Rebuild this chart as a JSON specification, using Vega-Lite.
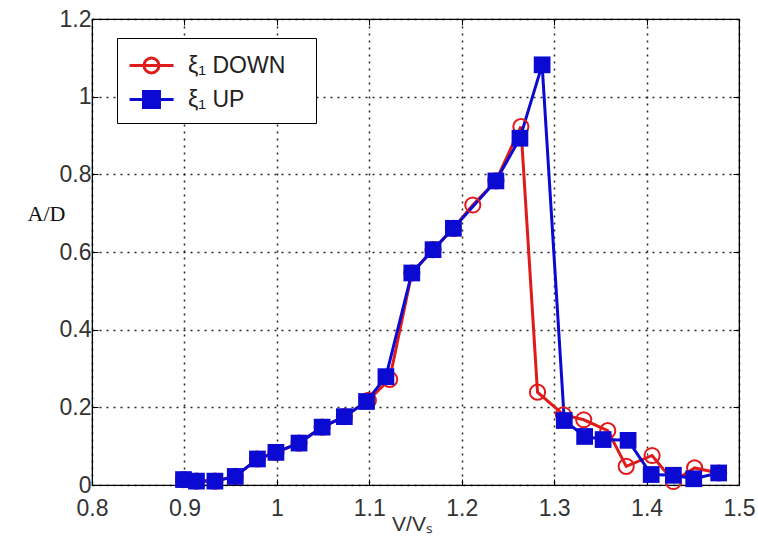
{
  "$schema": "https://vega.github.io/schema/vega-lite/v6.json",
  "width": 647,
  "height": 466,
  "autosize": {"type": "none"},
  "padding": {"left": 92, "top": 19, "right": 19, "bottom": 57},
  "background": "white",
  "config": {
    "view": {"stroke": "black", "strokeWidth": 1.2},
    "axis": {
      "labelFont": "Liberation Sans",
      "labelFontSize": 23,
      "labelColor": "#333333",
      "labelFlush": false,
      "domainColor": "black",
      "tickColor": "black",
      "gridColor": "black",
      "gridDash": [2, 5],
      "gridWidth": 1.5,
      "gridOpacity": 0.85
    }
  },
  "data": {
    "values": [
      {"x": 0.899, "y": 0.014, "s": "ξ₁ DOWN"},
      {"x": 0.913, "y": 0.010, "s": "ξ₁ DOWN"},
      {"x": 0.933, "y": 0.010, "s": "ξ₁ DOWN"},
      {"x": 0.955, "y": 0.022, "s": "ξ₁ DOWN"},
      {"x": 0.979, "y": 0.067, "s": "ξ₁ DOWN"},
      {"x": 0.999, "y": 0.084, "s": "ξ₁ DOWN"},
      {"x": 1.024, "y": 0.108, "s": "ξ₁ DOWN"},
      {"x": 1.049, "y": 0.149, "s": "ξ₁ DOWN"},
      {"x": 1.073, "y": 0.176, "s": "ξ₁ DOWN"},
      {"x": 1.099, "y": 0.218, "s": "ξ₁ DOWN"},
      {"x": 1.122, "y": 0.272, "s": "ξ₁ DOWN"},
      {"x": 1.146, "y": 0.546, "s": "ξ₁ DOWN"},
      {"x": 1.169, "y": 0.606, "s": "ξ₁ DOWN"},
      {"x": 1.191, "y": 0.661, "s": "ξ₁ DOWN"},
      {"x": 1.212, "y": 0.721, "s": "ξ₁ DOWN"},
      {"x": 1.237, "y": 0.783, "s": "ξ₁ DOWN"},
      {"x": 1.264, "y": 0.923, "s": "ξ₁ DOWN"},
      {"x": 1.282, "y": 0.239, "s": "ξ₁ DOWN"},
      {"x": 1.310, "y": 0.181, "s": "ξ₁ DOWN"},
      {"x": 1.332, "y": 0.168, "s": "ξ₁ DOWN"},
      {"x": 1.358, "y": 0.140, "s": "ξ₁ DOWN"},
      {"x": 1.378, "y": 0.048, "s": "ξ₁ DOWN"},
      {"x": 1.406, "y": 0.076, "s": "ξ₁ DOWN"},
      {"x": 1.429, "y": 0.009, "s": "ξ₁ DOWN"},
      {"x": 1.452, "y": 0.044, "s": "ξ₁ DOWN"},
      {"x": 1.478, "y": 0.031, "s": "ξ₁ DOWN"},
      {"x": 0.899, "y": 0.014, "s": "ξ₁ UP"},
      {"x": 0.913, "y": 0.010, "s": "ξ₁ UP"},
      {"x": 0.933, "y": 0.010, "s": "ξ₁ UP"},
      {"x": 0.955, "y": 0.022, "s": "ξ₁ UP"},
      {"x": 0.979, "y": 0.067, "s": "ξ₁ UP"},
      {"x": 0.999, "y": 0.084, "s": "ξ₁ UP"},
      {"x": 1.024, "y": 0.108, "s": "ξ₁ UP"},
      {"x": 1.049, "y": 0.149, "s": "ξ₁ UP"},
      {"x": 1.073, "y": 0.176, "s": "ξ₁ UP"},
      {"x": 1.097, "y": 0.215, "s": "ξ₁ UP"},
      {"x": 1.118, "y": 0.279, "s": "ξ₁ UP"},
      {"x": 1.146, "y": 0.546, "s": "ξ₁ UP"},
      {"x": 1.169, "y": 0.606, "s": "ξ₁ UP"},
      {"x": 1.191, "y": 0.661, "s": "ξ₁ UP"},
      {"x": 1.237, "y": 0.783, "s": "ξ₁ UP"},
      {"x": 1.263, "y": 0.893, "s": "ξ₁ UP"},
      {"x": 1.287, "y": 1.082, "s": "ξ₁ UP"},
      {"x": 1.311, "y": 0.166, "s": "ξ₁ UP"},
      {"x": 1.333, "y": 0.125, "s": "ξ₁ UP"},
      {"x": 1.353, "y": 0.117, "s": "ξ₁ UP"},
      {"x": 1.380, "y": 0.115, "s": "ξ₁ UP"},
      {"x": 1.405, "y": 0.027, "s": "ξ₁ UP"},
      {"x": 1.429, "y": 0.025, "s": "ξ₁ UP"},
      {"x": 1.451, "y": 0.016, "s": "ξ₁ UP"},
      {"x": 1.478, "y": 0.031, "s": "ξ₁ UP"}
    ]
  },
  "layer": [
    {
      "mark": {"type": "line", "strokeWidth": 3},
      "encoding": {
        "x": {
          "field": "x", "type": "quantitative",
          "scale": {"domain": [0.8, 1.5], "nice": false, "zero": false},
          "axis": {
            "orient": "bottom",
            "values": [0.8, 0.9, 1, 1.1, 1.2, 1.3, 1.4, 1.5],
            "format": ".2~g",
            "tickSize": -6,
            "labelPadding": 18,
            "title": "V/Vₛ",
            "titleFont": "Liberation Sans",
            "titleFontSize": 21,
            "titleFontWeight": "normal",
            "titleColor": "#333333",
            "titleX": 320,
            "titleY": 45,
            "titleBaseline": "alphabetic"
          }
        },
        "y": {
          "field": "y", "type": "quantitative",
          "scale": {"domain": [0, 1.2], "nice": false},
          "axis": {
            "orient": "left",
            "values": [0, 0.2, 0.4, 0.6, 0.8, 1, 1.2],
            "format": ".2~g",
            "tickSize": -6,
            "labelPadding": 7,
            "title": "A/D",
            "titleFont": "Liberation Serif",
            "titleFontSize": 22,
            "titleFontWeight": "normal",
            "titleColor": "#111111",
            "titleAngle": 0,
            "titleAlign": "center",
            "titleBaseline": "middle",
            "titleX": -46,
            "titleY": 194
          }
        },
        "color": {
          "field": "s", "type": "nominal",
          "scale": {"domain": ["ξ₁ DOWN", "ξ₁ UP"], "range": ["#e01b1b", "#0a0ad2"]},
          "legend": {
            "title": ".",
            "titleOrient": "right",
            "titleOpacity": 0,
            "titleFontSize": 2,
            "titlePadding": 21,
            "orient": "none",
            "legendX": 25,
            "legendY": 19,
            "padding": 9,
            "strokeColor": "black",
            "fillColor": "white",
            "symbolSize": 1156,
            "symbolStrokeWidth": 3,
            "labelFont": "Liberation Sans",
            "labelFontSize": 23,
            "labelColor": "#222222",
            "labelOffset": 25,
            "rowPadding": 2,
            "encode": {
              "symbols": {
                "update": {
                  "shape": {"signal": "datum.value === 'ξ₁ DOWN' ? 'M-0.88,0H1.71M0.85,0A0.44,0.44 0 1 1 -0.03,0A0.44,0.44 0 1 1 0.85,0' : 'M-0.88,0H1.71M-0.06,-0.47H0.88V0.47H-0.06Z'"},
                  "fill": {"signal": "datum.value === 'ξ₁ DOWN' ? 'transparent' : '#0a0ad2'"},
                  "strokeWidth": {"value": 3}
                }
              }
            }
          }
        }
      }
    },
    {
      "transform": [{"filter": "datum.s === 'ξ₁ DOWN'"}],
      "mark": {"type": "point", "shape": "circle", "filled": false, "size": 230, "strokeWidth": 2, "color": "#e01b1b", "opacity": 1},
      "encoding": {
        "x": {"field": "x", "type": "quantitative", "axis": null},
        "y": {"field": "y", "type": "quantitative", "axis": null}
      }
    },
    {
      "transform": [{"filter": "datum.s === 'ξ₁ UP'"}],
      "mark": {"type": "point", "shape": "square", "filled": true, "size": 280, "color": "#0a0ad2", "opacity": 1},
      "encoding": {
        "x": {
          "field": "x", "type": "quantitative",
          "axis": {"orient": "top", "values": [0.8, 0.9, 1, 1.1, 1.2, 1.3, 1.4, 1.5], "labels": false, "grid": false, "tickSize": -6, "title": null, "domain": true}
        },
        "y": {
          "field": "y", "type": "quantitative",
          "axis": {"orient": "right", "values": [0, 0.2, 0.4, 0.6, 0.8, 1, 1.2], "labels": false, "grid": false, "tickSize": -6, "title": null, "domain": true}
        }
      }
    }
  ],
  "resolve": {"axis": {"x": "independent", "y": "independent"}}
}
